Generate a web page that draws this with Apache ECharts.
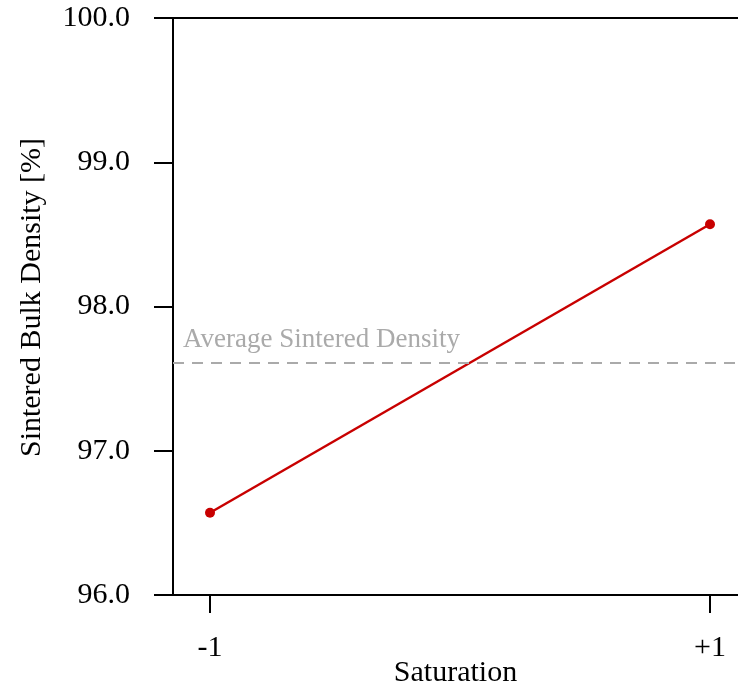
<!DOCTYPE html>
<html>
<head>
<meta charset="utf-8">
<script src="https://cdn.jsdelivr.net/npm/echarts@6/dist/echarts.min.js"></script>
<style>
    html, body { margin: 0; padding: 0; background: #fff; }
    #chart { width: 738px; height: 688px; }
</style>
</head>
<body>
<div id="chart"></div>
<script>
    // saturation levels (coded) and the measured sintered density
    var levels = [-1, 1];
    var levelLabels = ['-1', '+1'];
    var density = [96.57, 98.57];
    var averageDensity = 97.61;
    var yTicks = [96, 97, 98, 99, 100];

    var font = '"Liberation Serif", "Times New Roman", serif';
    var chart = echarts.init(document.getElementById('chart'));

    var points = [];
    for (var i = 0; i < levels.length; i++) {
        points.push([levels[i], density[i]]);
    }

    var option = {
        animation: false,
        grid: {
            left: 173,
            right: 0,
            top: 18,
            bottom: 93,
            outerBoundsMode: 'none',
            containLabel: false
        },
        xAxis: [{
            type: 'value',
            min: -1.148,
            max: 1.112,
            name: 'Saturation',
            nameLocation: 'middle',
            nameGap: 63,
            nameMoveOverlap: false,
            nameTextStyle: { fontFamily: font, fontSize: 30, color: '#000' },
            axisLine: { show: true, onZero: false, lineStyle: { color: '#000', width: 2 } },
            axisTick: { show: true, length: 18, lineStyle: { color: '#000', width: 2 }, customValues: levels },
            axisLabel: {
                fontFamily: font, fontSize: 30, color: '#000', margin: 38,
                customValues: levels,
                formatter: function (v) {
                    return levelLabels[levels.indexOf(v)];
                }
            },
            splitLine: { show: false }
        }, {
            // top frame line only
            type: 'value',
            position: 'top',
            min: -1.148,
            max: 1.112,
            axisLine: { show: true, onZero: false, lineStyle: { color: '#000', width: 2 } },
            axisTick: { show: false },
            axisLabel: { show: false },
            splitLine: { show: false }
        }],
        yAxis: {
            type: 'value',
            min: 96,
            max: 100,
            interval: 1,
            name: 'Sintered Bulk Density [%]',
            nameLocation: 'middle',
            nameGap: 126,
            nameTextStyle: { fontFamily: font, fontSize: 30, color: '#000', padding: [0, 0, 0, 18] },
            axisLine: { show: true, onZero: false, lineStyle: { color: '#000', width: 2 } },
            axisTick: { show: true, length: 19, lineStyle: { color: '#000', width: 2 }, customValues: yTicks },
            axisLabel: {
                fontFamily: font, fontSize: 30, color: '#000', margin: 43,
                formatter: function (v) { return v.toFixed(1); }
            },
            splitLine: { show: false }
        },
        series: [{
            type: 'line',
            data: points,
            symbol: 'circle',
            symbolSize: 10,
            itemStyle: { color: '#c80000' },
            lineStyle: { color: '#c80000', width: 2.5 },
            markLine: {
                silent: true,
                symbol: ['none', 'none'],
                lineStyle: { color: '#aaaaaa', width: 2, type: [11, 8] },
                label: {
                    show: true,
                    position: 'insideStartTop',
                    formatter: 'Average Sintered Density',
                    fontFamily: font,
                    fontSize: 27,
                    color: '#aaaaaa',
                    distance: [10, 9]
                },
                data: [{ yAxis: averageDensity }]
            }
        }]
    };

    chart.setOption(option);
</script>
</body>
</html>
